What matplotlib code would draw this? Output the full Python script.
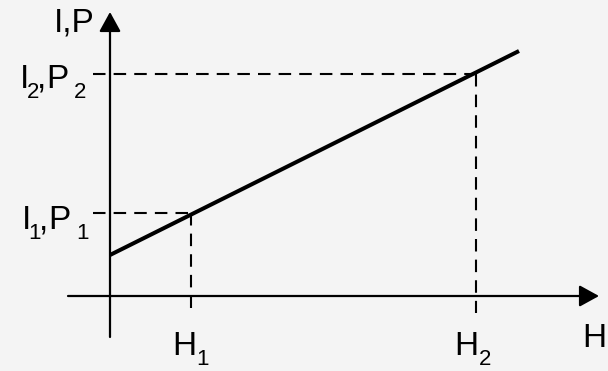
import matplotlib
matplotlib.use("Agg")
import matplotlib.pyplot as plt
from matplotlib.transforms import offset_copy

plt.rcParams['font.family'] = ['Liberation Sans', 'DejaVu Sans']

# schematic values (origin at the axes crossing)
line_h = [0, 409]          # H at start / end of the I,P line
line_ip = [41, 245]        # I,P at start / end of the line
h_marks = [81, 366]        # H1, H2
ip_marks = [83, 222]       # I1,P1 and I2,P2
h_subs = ['1', '2']
ip_subs = ['1', '2']

# axis extents
x_axis = [-42, 489]
y_axis = [-41, 284]
dash_start = -17

bg = '#f4f4f4'
fig = plt.figure(figsize=(6.08, 3.71), dpi=100, facecolor=bg)
ax = fig.add_axes([0, 0, 1, 1])
ax.set_facecolor(bg)
ax.set_xlim(-110, 498)
ax.set_ylim(-75, 296)
ax.axis('off')

arrow = dict(arrowstyle='-|>,head_length=0.6,head_width=0.33', color='black',
             lw=1.6, mutation_scale=20, shrinkA=0, shrinkB=0)
ax.annotate('', xy=(x_axis[1], 0), xytext=(x_axis[0], 0), arrowprops=arrow)
ax.annotate('', xy=(0, y_axis[1]), xytext=(0, y_axis[0]), arrowprops=arrow)

# dashed guides
for h, ip in zip(h_marks, ip_marks):
    ax.plot([dash_start, h], [ip, ip], color='black', lw=1.5, dashes=(6, 3.9))
    ax.plot([h, h], [ip, dash_start], color='black', lw=1.5, dashes=(6, 3.9))

# main line
ax.plot(line_h, line_ip, color='black', lw=2.9, solid_capstyle='butt')

fs = 24
fs_sub = 16
drop = 10  # px
renderer = fig.canvas.get_renderer()


def label(x, y, parts):
    # parts: (text, is_subscript, extra gap in px before the piece)
    dx = 0
    for txt, sub, gap in parts:
        dx += gap
        tr = offset_copy(ax.transData, fig=fig, x=dx, y=-drop if sub else 0, units='dots')
        t = ax.text(x, y, txt, fontsize=fs_sub if sub else fs, transform=tr,
                    ha='left', va='baseline')
        dx += t.get_window_extent(renderer).width


label(-56.5, 264, [('I,P', False, 0)])
label(-90.5, 208, [('I', False, 0), (ip_subs[1], True, -2), (',', False, -2),
                   ('P', False, 0), (ip_subs[1], True, 5)])
label(-88.5, 67, [('I', False, 0), (ip_subs[0], True, -2), (',', False, -2),
                  ('P', False, 0), (ip_subs[0], True, 5)])
label(62.5, -59, [('H', False, 0), (h_subs[0], True, 0)])
label(344.5, -59, [('H', False, 0), (h_subs[1], True, 0)])
label(472.5, -51, [('H', False, 0)])

fig.savefig('out.png', dpi=100, facecolor=bg)
